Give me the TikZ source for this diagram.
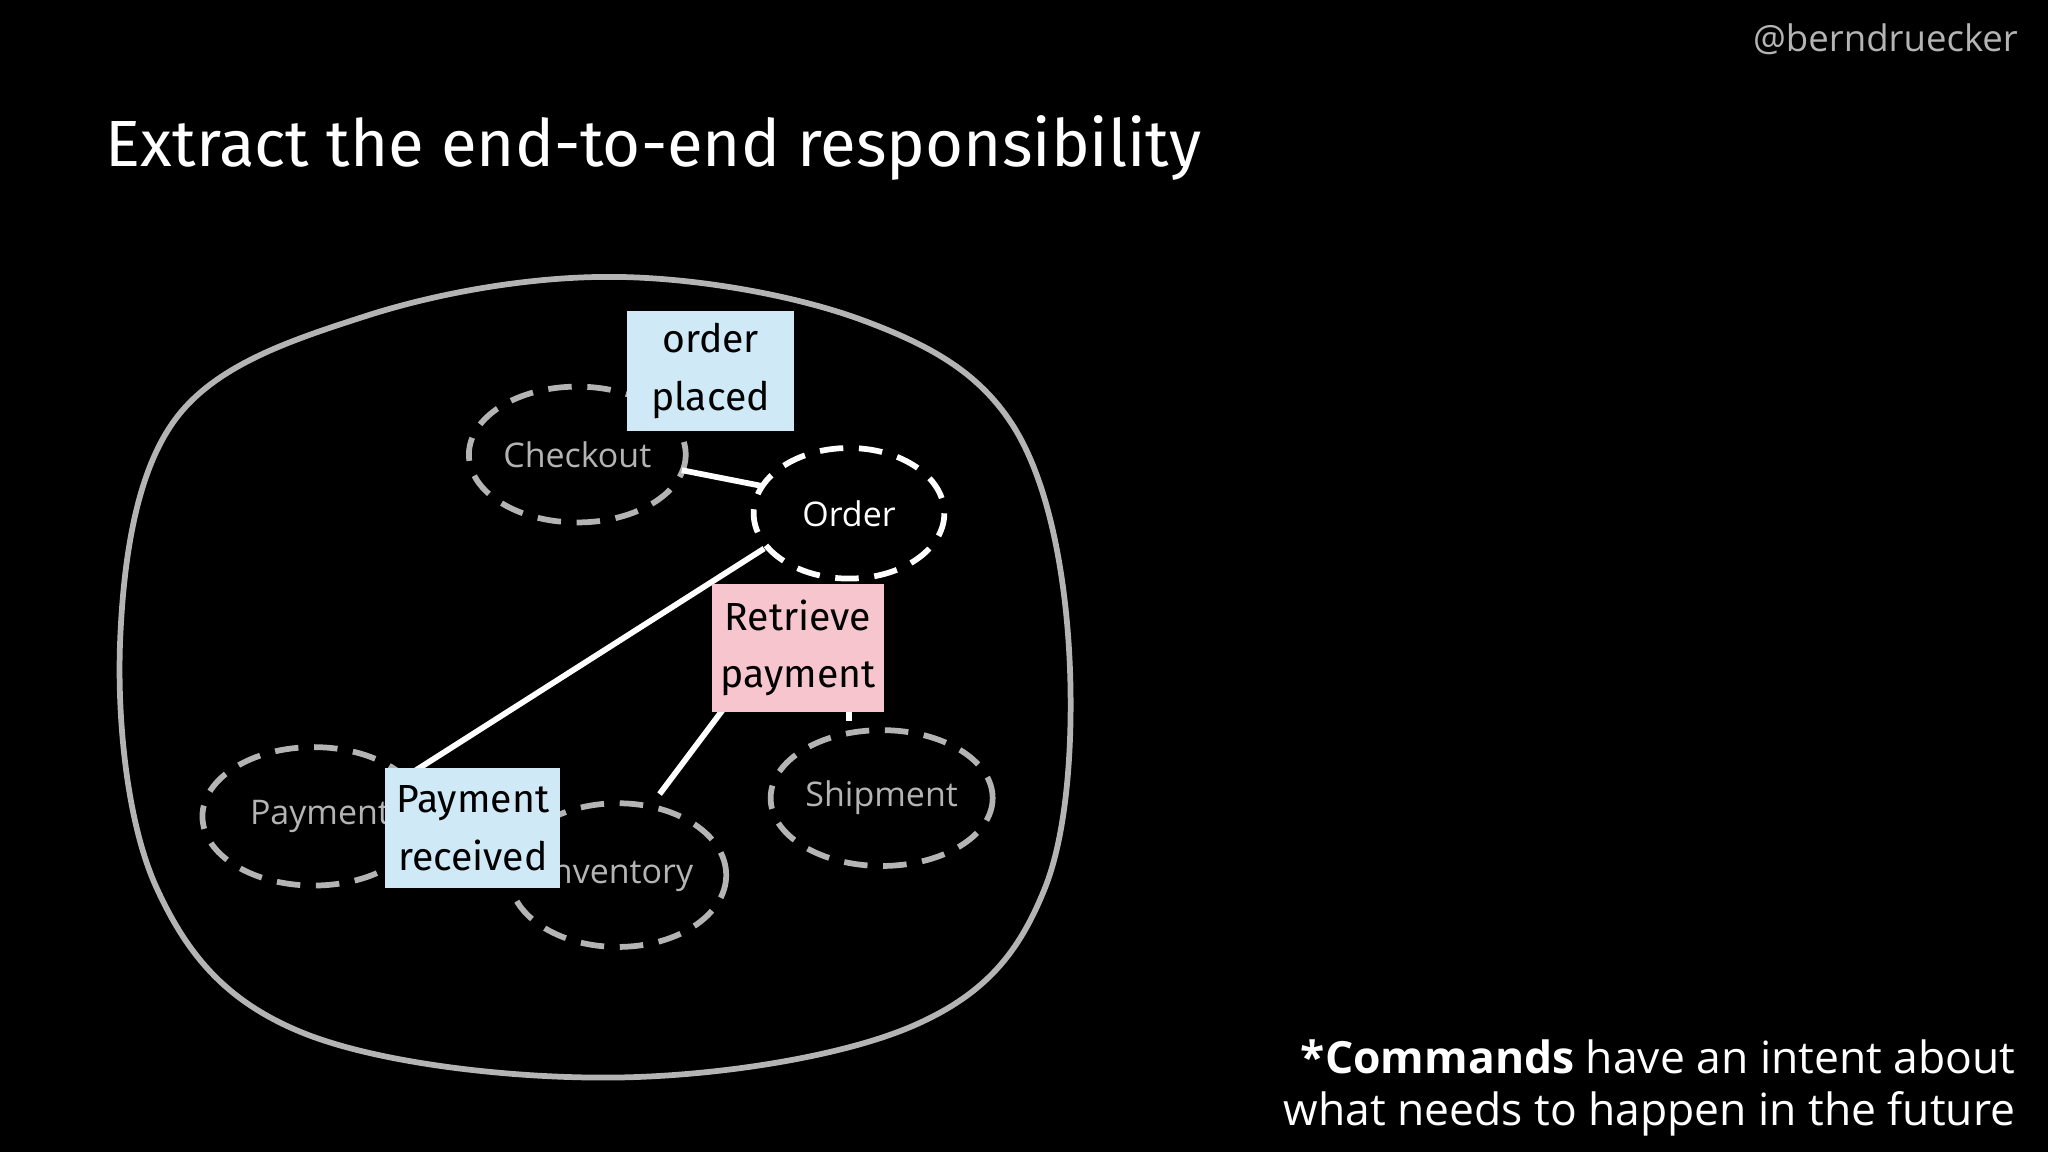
\documentclass[tikz,border=0pt]{standalone}
\usepackage{fontspec}
\setmainfont{Open Sans}
\newfontfamily\hand{Fira Sans}
\definecolor{ltgray}{HTML}{B4B4B4}
\definecolor{stblue}{HTML}{CFE9F6}
\definecolor{stpink}{HTML}{F6C5CD}
\begin{document}
\begin{tikzpicture}[x=0.5pt,y=-0.5pt,
  ctx/.style={draw=ltgray,line width=2.2pt,dash pattern=on 9pt off 6pt},
  sticky/.style={inner sep=0pt,align=center,text=black,font=\hand\fontsize{15}{22}\selectfont},
  conn/.style={white,line width=2.2pt}]
\fill[black] (0,0) rectangle (1568,882);
\useasboundingbox (0,0) rectangle (1568,882);
\node[anchor=east,text=ltgray,font=\fontsize{14}{16}\selectfont] (handle) at (1552,30) {@berndruecker};
\node[anchor=west,text=white,font=\hand\fontsize{25}{30}\selectfont] (title) at (74,113) {Extract the end-to-end responsibility};
\draw[ltgray,line width=2.2pt] plot[smooth cycle,tension=0.6] coordinates
 {(470,212) (660,245) (775,325) (818,490) (800,680) (700,785) (470,825) (230,790) (120,680) (92,490) (135,320) (280,242)};
\node[anchor=east,text=white,font=\fontsize{17}{20}\selectfont,align=right] (note) at (1550,833) {\textbf{*Commands} have an intent about\\what needs to happen in the future};
\path[ctx] (442,348) ellipse[x radius=83,y radius=52];
\node[text=ltgray,font=\fontsize{13}{15}\selectfont] (checkout) at (442,348) {Checkout};
\path[ctx,draw=white] (650,393) ellipse[x radius=73,y radius=50];
\node[text=white,font=\fontsize{13}{15}\selectfont] (order) at (650,393) {Order};
\path[ctx] (240,625) ellipse[x radius=85,y radius=53];
\node[text=ltgray,font=\fontsize{13}{15}\selectfont] (payment) at (245,625) {Payment};
\path[ctx] (473,670) ellipse[x radius=83,y radius=55];
\node[text=ltgray,font=\fontsize{13}{15}\selectfont] (inventory) at (473,670) {Inventory};
\path[ctx] (675,611) ellipse[x radius=85,y radius=52];
\node[text=ltgray,font=\fontsize{13}{15}\selectfont] (shipment) at (675,611) {Shipment};
\coordinate (c1) at (522,360);
\coordinate (c2) at (583,372);
\coordinate (o1) at (585,420);
\coordinate (p1) at (318,590);
\coordinate (i1) at (505,608);
\coordinate (r1) at (556,540);
\coordinate (r2) at (650,540);
\coordinate (s1) at (650,552);
\draw[conn] (c1) -- (c2);
\draw[conn] (o1) -- (p1);
\draw[conn] (i1) -- (r1);
\draw[conn] (r2) -- (s1);
\node[sticky,fill=stblue,minimum width=64pt,minimum height=46pt] (placed) at (544,284) {order\\placed};
\node[sticky,fill=stpink,minimum width=66pt,minimum height=49pt] (retrieve) at (611,496) {Retrieve\\payment};
\node[sticky,fill=stblue,minimum width=67pt,minimum height=46pt] (received) at (362,634) {Payment\\received};
\end{tikzpicture}
\end{document}
